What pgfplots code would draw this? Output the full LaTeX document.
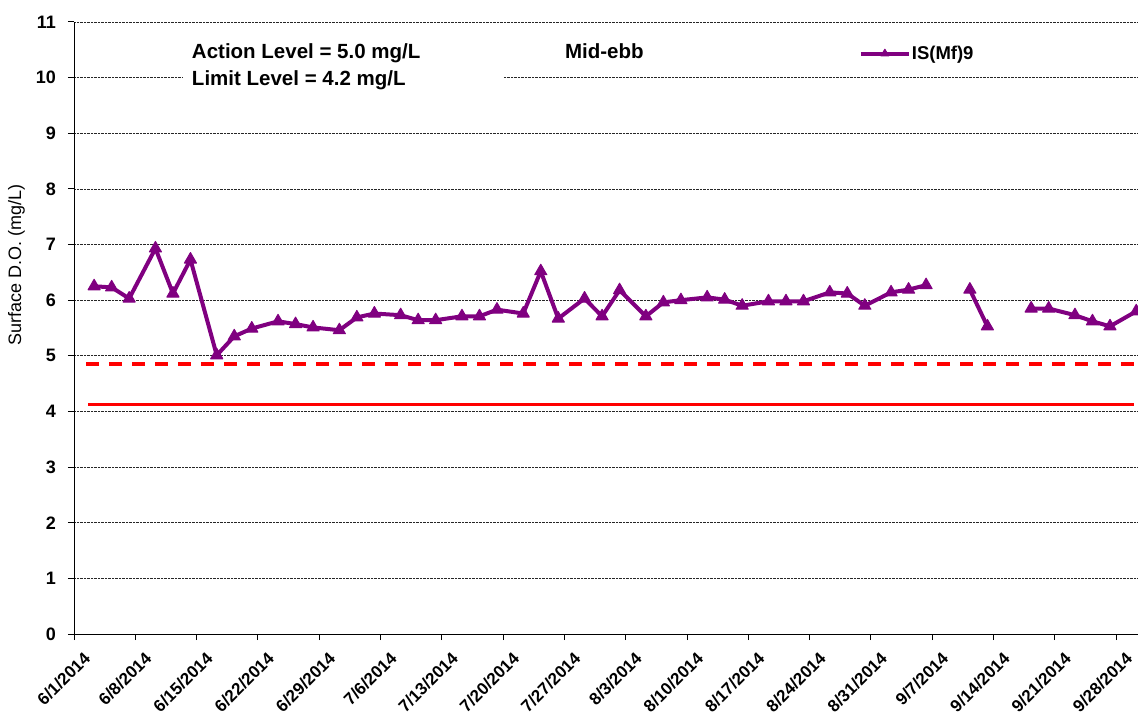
\documentclass[border=0pt]{standalone}
\usepackage{fontspec}
\setmainfont{Liberation Sans}
\usepackage{pgfplots}
\pgfplotsset{compat=1.18}
\definecolor{dopurple}{RGB}{128,0,128}
\begin{document}
\begin{tikzpicture}
\begin{axis}[
  name=ax,
  scale only axis,
  width=1064pt, height=612pt,
  xmin=0, xmax=121.5,
  ymin=0, ymax=11,
  axis x line*=bottom,
  axis y line*=left,
  axis line style={black, line width=1pt},
  tick style={black, line width=1pt},
  tick align=outside,
  major tick length=6pt,
  ytick={0,1,...,11},
  xtick={0,7,...,119},
  xticklabels={6/1/2014,6/8/2014,6/15/2014,6/22/2014,6/29/2014,7/6/2014,7/13/2014,7/20/2014,7/27/2014,8/3/2014,8/10/2014,8/17/2014,8/24/2014,8/31/2014,9/7/2014,9/14/2014,9/21/2014,9/28/2014},
  /pgf/number format/assume math mode=true,
  yticklabel style={font=\fontsize{18}{20}\selectfont\bfseries, inner sep=2pt, xshift=-10pt},
  xticklabel style={font=\fontsize{17}{19}\selectfont\bfseries, rotate=45, anchor=north east, inner sep=2pt, xshift=0.3pt, yshift=-11.7pt},
  ymajorgrids=true,
  major grid style={densely dotted, black!85, line width=0.7pt},
  ylabel={Surface D.O. (mg/L)},
  ylabel style={font=\fontsize{18}{20}\selectfont, at={(axis description cs:-0.054,0.603)}, anchor=center},
  unbounded coords=jump,
  clip=false,
  legend style={at={(axis cs:89.6,10.43)}, anchor=west, draw=none, fill=none, inner sep=0pt,
    font=\fontsize{18.5}{20}\selectfont\bfseries,
    nodes={inner sep=1pt}},
  legend image code/.code={\draw[#1, mark repeat=2, mark phase=2, mark size=4.5pt] plot coordinates {(0pt,0pt) (24pt,0pt) (48pt,0pt)};},
]
\addplot[red, line width=3.4pt, dash pattern=on 13pt off 10pt, forget plot] coordinates {(1.4,4.85) (121.5,4.85)};
\addplot[red, line width=2.7pt, forget plot] coordinates {(1.6,4.12) (121.0,4.12)};
\addplot[dopurple, line width=4pt, line join=round, mark=triangle*, mark size=7pt, mark options={solid, line width=1pt, fill=dopurple}] coordinates {
(2.3,6.25) (4.3,6.23) (6.3,6.03) (9.3,6.93) (11.3,6.12) (13.3,6.73)
(16.3,5.01) (18.3,5.35) (20.3,5.49) (23.3,5.62) (25.3,5.57) (27.3,5.51)
(30.3,5.46) (32.3,5.69) (34.3,5.76) (37.3,5.73) (39.3,5.64) (41.3,5.64)
(44.3,5.71) (46.3,5.71) (48.3,5.83) (51.3,5.76) (53.3,6.52) (55.3,5.67)
(58.3,6.03) (60.3,5.71) (62.3,6.18) (65.3,5.71) (67.3,5.96) (69.3,6.00)
(72.3,6.05) (74.3,6.01) (76.3,5.90) (79.3,5.98) (81.3,5.98) (83.3,5.98)
(86.3,6.14) (88.3,6.12) (90.3,5.90) (93.3,6.14) (95.3,6.19) (97.3,6.27)
(100,nan)
(102.3,6.19) (104.3,5.53)
(106,nan)
(109.3,5.85) (111.3,5.85) (114.3,5.73) (116.3,5.62) (118.3,5.53) (121.3,5.80)
};
\addlegendentry{IS(Mf)9}
\fill[white] (axis cs:12.4,9.66) rectangle (axis cs:49.0,10.84);
\node[anchor=base west, inner sep=0pt, font=\fontsize{20.5}{22}\selectfont\bfseries] at (axis cs:13.45,10.34) {Action Level = 5.0 mg/L};
\node[anchor=base west, inner sep=0pt, font=\fontsize{20.5}{22}\selectfont\bfseries] at (axis cs:13.45,9.86) {Limit Level = 4.2 mg/L};
\node[anchor=base west, inner sep=0pt, font=\fontsize{20.5}{22}\selectfont\bfseries] at (axis cs:56.05,10.34) {Mid-ebb};
\end{axis}
\pgfresetboundingbox
\useasboundingbox ([xshift=-74pt,yshift=-82pt]ax.south west) rectangle ([yshift=22pt]ax.north east);
\end{tikzpicture}
\end{document}
